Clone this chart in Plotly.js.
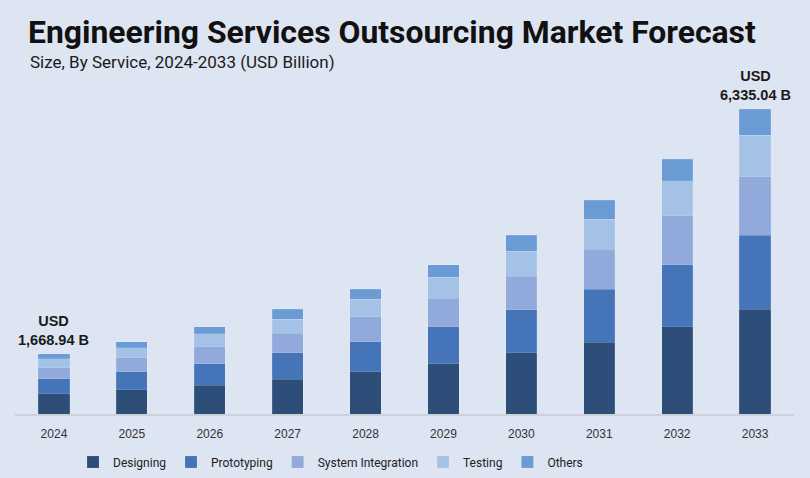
<!DOCTYPE html>
<html>
<head>
<meta charset="utf-8">
<script src="https://cdn.plot.ly/plotly-3.0.1.min.js"></script>
<style>html,body{margin:0;padding:0;background:#dde4f2;}#chart{width:810px;height:478px;}</style>
</head>
<body>
<div id="chart"></div>
<script>
const years = ['2024','2025','2026','2027','2028','2029','2030','2031','2032','2033'];
const designing = [422, 505, 602, 727, 879, 1039, 1273, 1495, 1813, 2175];
const prototyping = [312, 368, 442, 546, 623, 775, 893, 1095, 1288, 1543];
const systemIntegration = [228, 291, 353, 409, 513, 588, 700, 837, 1018, 1205];
const testing = [181, 214, 270, 285, 368, 436, 513, 617, 721, 872];
const others = [104, 125, 145, 208, 208, 264, 332, 395, 451, 534];
const labelYears = ['2024', '2033'];
const labelTexts = ['USD<br>1,668.94 B', 'USD<br>6,335.04 B'];

const seriesNames = ['Designing', 'Prototyping', 'System Integration', 'Testing', 'Others'];
const seriesData = [designing, prototyping, systemIntegration, testing, others];
const colors = ['#2d4e79', '#4574b8', '#92a9dc', '#a4c2e6', '#6a9bd5'];

const traces = seriesNames.map((n, i) => ({
  type: 'bar', name: n, x: years, y: seriesData[i],
  marker: {color: colors[i], line: {color: 'rgba(255,255,255,0.25)', width: 0.5}},
  width: 0.4, hoverinfo: 'x+y+name'
}));

const totals = years.map((_, j) => seriesData.reduce((s, arr) => s + arr[j], 0));

const annotations = labelYears.map((yr, k) => ({
  xref: 'x', yref: 'y', x: years.indexOf(yr), y: totals[years.indexOf(yr)],
  text: labelTexts[k], showarrow: false, yanchor: 'bottom', yshift: 4,
  font: {family: 'Liberation Sans, Arial, sans-serif', size: 14.5, color: '#1a1a1a', weight: 700}
}));
annotations.push({
  xref: 'paper', yref: 'paper', x: (28 - 15) / 779, y: (414 - 62) / 314,
  xanchor: 'left', yanchor: 'middle', showarrow: false,
  text: 'Size, By Service, 2024-2033 (USD Billion)',
  font: {family: 'Roboto, sans-serif', size: 17, color: '#1a1a1a'}
});

const layout = {
  width: 810, height: 478,
  paper_bgcolor: '#dde4f2', plot_bgcolor: '#dde4f2',
  margin: {l: 15, r: 16, t: 100, b: 64},
  barmode: 'stack',
  title: {
    text: 'Engineering Services Outsourcing Market Forecast',
    xref: 'container', yref: 'container', x: 28/810, xanchor: 'left',
    y: 1 - 32/478, yanchor: 'middle',
    font: {family: 'Roboto, sans-serif', size: 31.9, color: '#111', weight: 700}
  },
  xaxis: {
    type: 'category', range: [-0.5, 9.5], showgrid: false, zeroline: false,
    showline: true, linecolor: '#cdd2da', linewidth: 2, ticks: '', ticklabelstandoff: 8,
    tickfont: {family: 'Liberation Sans, Arial, sans-serif', size: 12, color: '#333'}
  },
  yaxis: {range: [0, 6522], visible: false, showgrid: false, zeroline: false},
  showlegend: true,
  legend: {
    orientation: 'h', xref: 'container', yref: 'container',
    x: 73 / 810, xanchor: 'left', y: 1 - 462 / 478, yanchor: 'middle',
    font: {family: 'Roboto, sans-serif', size: 12, color: '#222'},
    bgcolor: 'rgba(0,0,0,0)', traceorder: 'normal'
  },
  annotations: annotations
};

Plotly.newPlot('chart', traces, layout, {displayModeBar: false, staticPlot: true});
</script>
</body>
</html>
